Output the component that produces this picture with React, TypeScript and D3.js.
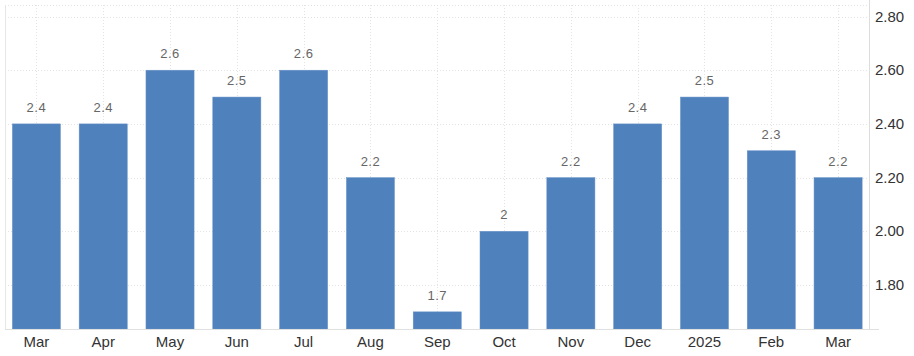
import React from "react";
import * as d3 from "d3";

const categories = ["Mar", "Apr", "May", "Jun", "Jul", "Aug", "Sep", "Oct", "Nov", "Dec", "2025", "Feb", "Mar"];
const values = [2.4, 2.4, 2.6, 2.5, 2.6, 2.2, 1.7, 2.0, 2.2, 2.4, 2.5, 2.3, 2.2];
const valueLabels = ["2.4", "2.4", "2.6", "2.5", "2.6", "2.2", "1.7", "2", "2.2", "2.4", "2.5", "2.3", "2.2"];
const yTicks = [1.8, 2.0, 2.2, 2.4, 2.6, 2.8];

const W = 914, H = 356;
const plotL = 5, plotR = 869, plotT = 5, plotB = 329;

export default function App() {
  const idx = categories.map((_, i) => String(i));
  const x = d3.scaleBand<string>().domain(idx).range([3, 871.5]).paddingInner(0.28).paddingOuter(0.14);
  const y = d3.scaleLinear().domain([1.8, 2.8]).range([285, 16.5]);
  const font = "'Liberation Sans', Arial, sans-serif";
  return (
    <svg width={W} height={H} style={{ position: "absolute", left: 0, top: 0, background: "#fff" }}>
      <rect x={0} y={0} width={W} height={H} fill="#fff" />
      {yTicks.map((t) => (
        <line key={"h" + t} x1={plotL} x2={plotR} y1={Math.round(y(t)) + 0.5} y2={Math.round(y(t)) + 0.5}
          stroke="#e3e3e3" strokeDasharray="1,2" />
      ))}
      <line x1={plotL} x2={plotR} y1={plotT + 0.5} y2={plotT + 0.5} stroke="#e3e3e3" strokeDasharray="1,2" />
      {idx.map((k) => {
        const cx = Math.round(x(k)! + x.bandwidth() / 2) + 0.5;
        return <line key={"v" + k} x1={cx} x2={cx} y1={plotT} y2={plotB} stroke="#e3e3e3" strokeDasharray="1,2" />;
      })}
      {values.map((v, i) => (
        <rect key={"b" + i} x={x(String(i))} y={y(v)} width={x.bandwidth()} height={plotB - y(v)}
          fill="#4f81bd" stroke="#6a93c7" strokeWidth={0.5} />
      ))}
      <line x1={plotL + 0.5} x2={plotL + 0.5} y1={plotT} y2={plotB} stroke="#e6e6e6" />
      <line x1={plotR + 0.5} x2={plotR + 0.5} y1={0} y2={plotB + 1} stroke="#dcdcdc" />
      <line x1={plotL} x2={plotR + 10} y1={plotB + 0.5} y2={plotB + 0.5} stroke="#e0e0e0" />
      {values.map((v, i) => (
        <text key={"l" + i} x={x(String(i))! + x.bandwidth() / 2} y={y(v) - 12} textAnchor="middle"
          fontFamily={font} fontSize={13} fill="#666" letterSpacing={0.5}>{valueLabels[i]}</text>
      ))}
      {categories.map((c, i) => (
        <text key={"x" + i} x={x(String(i))! + x.bandwidth() / 2} y={347} textAnchor="middle"
          fontFamily={font} fontSize={15} fill="#333">{c}</text>
      ))}
      {yTicks.map((t) => (
        <text key={"y" + t} x={875} y={y(t) + 5} fontFamily={font} fontSize={15} fill="#333">{t.toFixed(2)}</text>
      ))}
    </svg>
  );
}
